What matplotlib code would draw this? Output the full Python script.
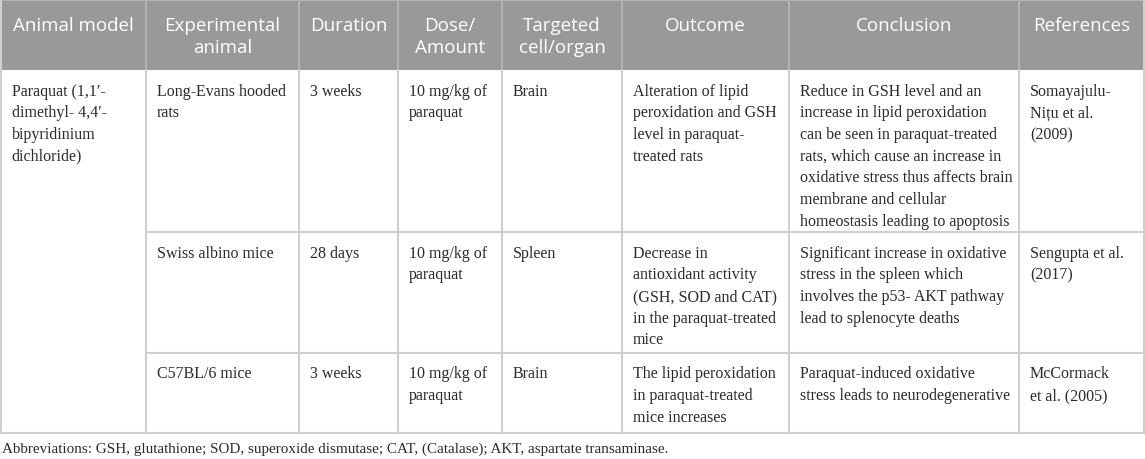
import matplotlib
matplotlib.use("Agg")
import matplotlib.pyplot as plt

W, H = 1145, 460

headers = [["Animal model"], ["Experimental", "animal"], ["Duration"], ["Dose/", "Amount"],
           ["Targeted", "cell/organ"], ["Outcome"], ["Conclusion"], ["References"]]

animal_model = ["Paraquat (1,1\u2032-", "dimethyl- 4,4\u2032-", "bipyridinium", "dichloride)"]
experimental_animal = [["Long-Evans hooded", "rats"], ["Swiss albino mice"], ["C57BL/6 mice"]]
duration = [["3 weeks"], ["28 days"], ["3 weeks"]]
dose = [["10 mg/kg of", "paraquat"], ["10 mg/kg of", "paraquat"], ["10 mg/kg of", "paraquat"]]
target = [["Brain"], ["Spleen"], ["Brain"]]
outcome = [["Alteration of lipid", "peroxidation and GSH", "level in paraquat-", "treated rats"],
           ["Decrease in", "antioxidant activity", "(GSH, SOD and CAT)", "in the paraquat-treated", "mice"],
           ["The lipid peroxidation", "in paraquat-treated", "mice increases"]]
conclusion = [["Reduce in GSH level and an", "increase in lipid peroxidation", "can be seen in paraquat-treated",
               "rats, which cause an increase in", "oxidative stress thus affects brain",
               "membrane and cellular", "homeostasis leading to apoptosis"],
              ["Significant increase in oxidative", "stress in the spleen which",
               "involves the p53- AKT pathway", "lead to splenocyte deaths"],
              ["Paraquat-induced oxidative", "stress leads to neurodegenerative"]]
references = [["Somayajulu-", "Ni\u021bu et al.", "(2009)"], ["Sengupta et al.", "(2017)"],
              ["McCormack", "et al. (2005)"]]
footnote = "Abbreviations: GSH, glutathione; SOD, superoxide dismutase; CAT, (Catalase); AKT, aspartate transaminase."

col_x = [0.5, 146, 299, 398, 502, 622, 789, 1019, 1144]
row_y = [0, 71, 233, 354, 434]

fig = plt.figure(figsize=(W / 100, H / 100), dpi=100)
ax = fig.add_axes([0, 0, 1, 1])
ax.set_xlim(0, W)
ax.set_ylim(H, 0)
ax.axis("off")

header_bg = "#999999"
grid = "#cfcfcf"
ax.add_patch(plt.Rectangle((0, 0), col_x[-1], row_y[1], facecolor=header_bg, edgecolor="none"))

LS = 21.7
PAD = 11
serif = "Liberation Serif"
sans = "Open Sans"
txtc = "#2b2b2b"

# header text
for i, lines in enumerate(headers):
    cx = (col_x[i] + col_x[i + 1]) / 2
    for j, t in enumerate(lines):
        ax.text(cx, 26 + j * LS, t, ha="center", va="center", color="white",
                fontsize=13.5, family=sans)

# header separators
for x in col_x[1:-1]:
    ax.plot([x, x], [0, row_y[1]], color="#b8b8b8", lw=1.2)
ax.plot([0, col_x[-1]], [0.6, 0.6], color="#b8b8b8", lw=1.2)

# grid lines in body
for x in [col_x[0], col_x[-1]]:
    ax.plot([x, x], [0, row_y[-1]], color=grid, lw=1.5)
for x in col_x[1:-1]:
    ax.plot([x, x], [row_y[1], row_y[-1]], color=grid, lw=1.5)
for y in row_y[2:-1]:
    ax.plot([col_x[1], col_x[-1]], [y, y], color=grid, lw=1.5)
ax.plot([0, col_x[-1]], [row_y[-1], row_y[-1]], color=grid, lw=1.5)


def cell(ci, top, lines):
    for j, t in enumerate(lines):
        ax.text(col_x[ci] + PAD, top + 20.5 + j * LS, t, ha="left", va="center",
                color=txtc, fontsize=11.5, family=serif)


cell(0, row_y[1], animal_model)
columns = [experimental_animal, duration, dose, target, outcome, conclusion, references]
for r in range(3):
    for k, col in enumerate(columns):
        cell(k + 1, row_y[r + 1], col[r])

ax.text(2, 449, footnote, ha="left", va="center", color=txtc, fontsize=10.9, family=serif)

fig.savefig("out.png", dpi=100)
